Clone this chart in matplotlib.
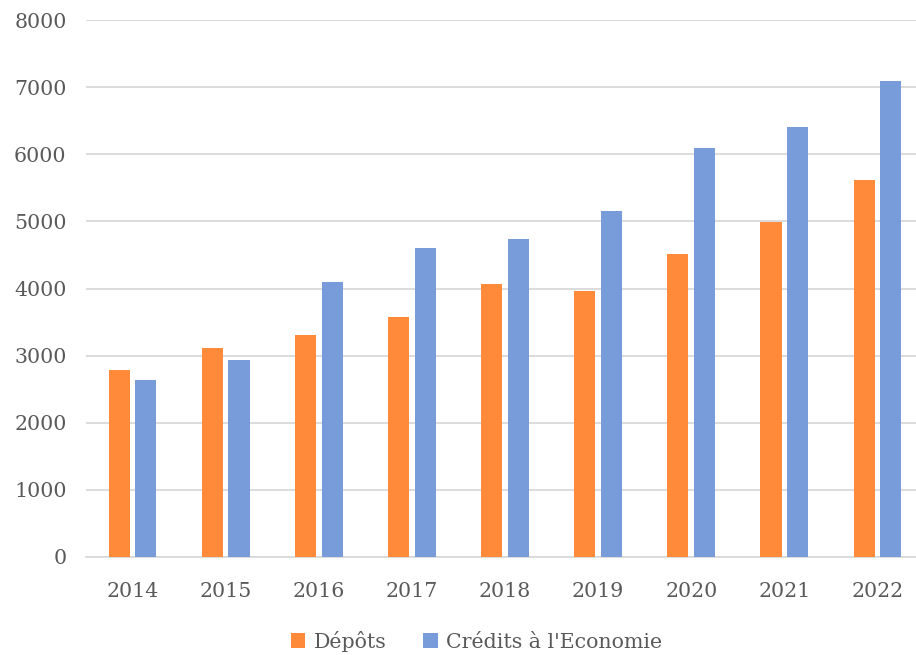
import numpy as np
import matplotlib
matplotlib.use("Agg")
import matplotlib.pyplot as plt

years = ["2014", "2015", "2016", "2017", "2018", "2019", "2020", "2021", "2022"]
depots = [2790, 3120, 3300, 3580, 4070, 3970, 4520, 4995, 5610]
credits = [2630, 2930, 4090, 4610, 4740, 5150, 6090, 6410, 7090]

orange = "#FF8A3A"
blue = "#789BD9"
grey = "#595959"

plt.rcParams["font.family"] = ["DejaVu Serif"]

fig = plt.figure(figsize=(9.16, 6.55), dpi=100)
ax = fig.add_axes([86 / 916, 98 / 655, 838 / 916, 537 / 655])

x = np.arange(len(years))
w = 0.226
ax.bar(x - 0.143, depots, w, color=orange, label="Dépôts", zorder=3)
ax.bar(x + 0.143, credits, w, color=blue, label="Crédits à l'Economie", zorder=3)

ax.set_xlim(-0.5, len(years) - 0.5)
ax.set_ylim(0, 8000)
ax.set_yticks(range(0, 8001, 1000))
ax.set_xticks(x)
ax.set_xticklabels(years)
ax.grid(axis="y", color="#D9D9D9", linewidth=1.3, zorder=0)
for s in ["top", "right", "left"]:
    ax.spines[s].set_visible(False)
ax.spines["bottom"].set_color("#D9D9D9")
ax.spines["bottom"].set_linewidth(1.3)
ax.tick_params(length=0, labelsize=14.8, colors=grey)
ax.tick_params(axis="x", pad=18)
ax.tick_params(axis="y", pad=14)

fig.legend(loc="center", bbox_to_anchor=(0.52, 0.021), ncol=2, frameon=False,
           fontsize=14.8, labelcolor=grey, handlelength=0.7, handleheight=0.7,
           handletextpad=0.4, columnspacing=1.8)

fig.savefig("out.png", dpi=100)
